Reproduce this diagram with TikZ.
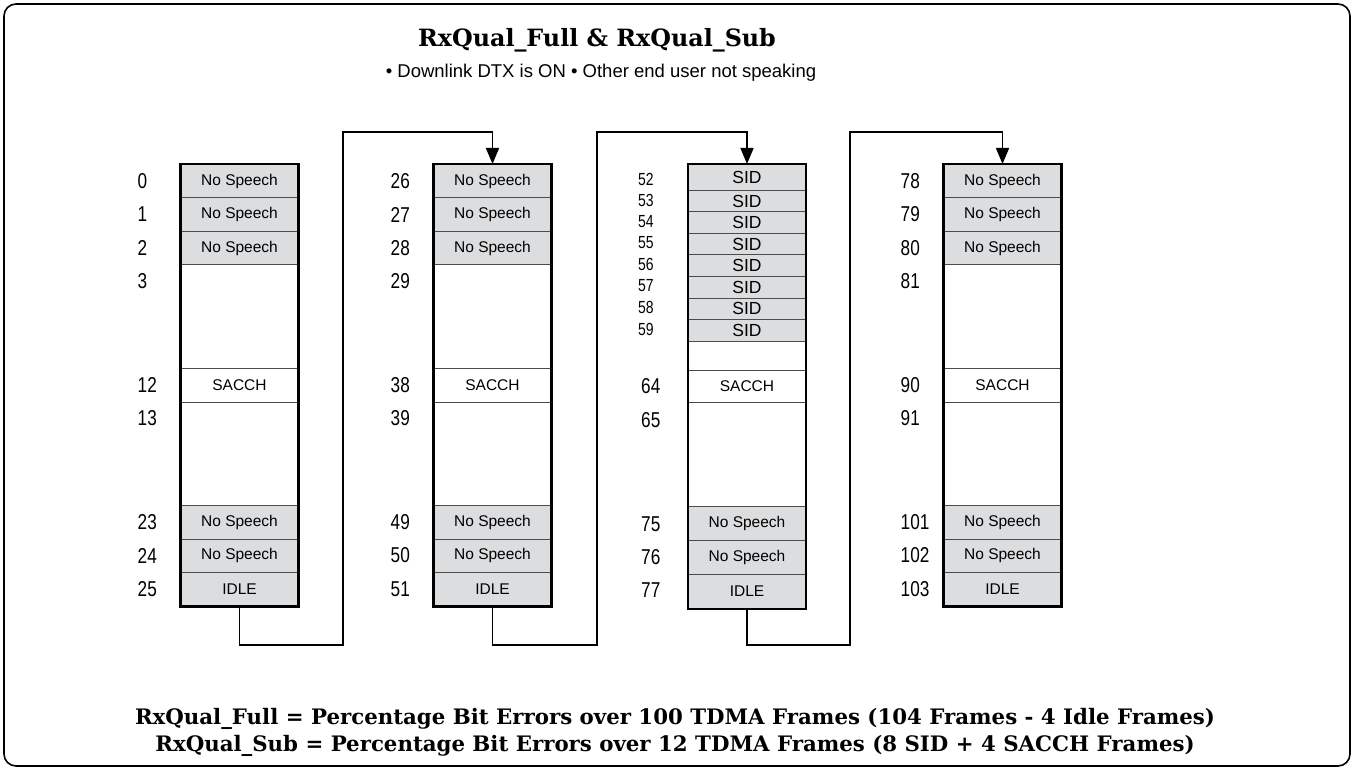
\documentclass[tikz,border=0pt]{standalone}
\usepackage{fontspec}
\setmainfont{Liberation Sans}
\newfontfamily\numfont{Liberation Sans}[FakeStretch=0.8]
\newfontfamily\headfont{DejaVu Serif}
\usetikzlibrary{arrows.meta}
\definecolor{cellgray}{HTML}{DCDDDF}
\tikzset{
  cell/.style={draw=black!70, line width=0.9pt, minimum width=117pt, inner sep=0pt,
    anchor=north, font=\fontsize{15.5}{15.5}\selectfont},
  nospeech/.style={cell, fill=cellgray, minimum height=33.5pt},
  blank/.style={cell, fill=white},
  sidcell/.style={cell, fill=cellgray, font=\fontsize{17.5}{17.5}\selectfont},
  outline/.style={line width=2.2pt, line join=miter},
  num/.style={anchor=west, inner sep=0pt, font=\numfont\fontsize{21.5}{21.5}\selectfont},
  smallnum/.style={anchor=west, inner sep=0pt, font=\numfont\fontsize{17.5}{17.5}\selectfont},
  link/.style={line width=1.6pt, -{Triangle[width=13pt,length=16pt]}},
  bigtext/.style={font=\headfont\bfseries\fontsize{21.3}{21.3}\selectfont}
}
\begin{document}
\begin{tikzpicture}[x=1pt,y=-1pt]
    \useasboundingbox (0,0) rectangle (1351,767);
    % Frame
    \draw[line width=1.6pt, rounded corners=12pt] (4,4) rectangle (1350,766);

    % Title
    \node[bigtext, font=\headfont\bfseries\fontsize{23.8}{23.8}\selectfont] (title) at (597,40) {RxQual\_Full \& RxQual\_Sub};
    \node[font=\fontsize{18.5}{18.5}\selectfont] (subtitle) at (601,73) {• Downlink DTX is ON • Other end user not speaking};

    % Columns with speech frames
    \foreach \c/\cx/\n in {A/239.5/0, B/492.5/26, D/1002.5/78} {
      \node[nospeech] (\c1) at (\cx,164) {No Speech};
      \node[nospeech] (\c2) at (\cx,197.5) {No Speech};
      \node[nospeech] (\c3) at (\cx,231) {No Speech};
      \node[blank, minimum height=103.5pt] (\c4) at (\cx,264.5) {};
      \node[blank, minimum height=33.5pt] (\c5) at (\cx,368) {SACCH};
      \node[blank, minimum height=103.5pt] (\c6) at (\cx,401.5) {};
      \node[nospeech] (\c7) at (\cx,505) {No Speech};
      \node[nospeech] (\c8) at (\cx,538.5) {No Speech};
      \node[nospeech] (\c9) at (\cx,572) {IDLE};
      \draw[outline] (\c1.north west) rectangle (\c9.south east);
      % Frame numbers
      \foreach \k/\y in {0/181, 1/214.5, 2/248, 3/281.5, 12/385,
                         13/418.5, 23/522, 24/555.5, 25/589} {
        \pgfmathtruncatemacro\m{\n+\k}
        \node[num] (num\m) at (\cx-102,\y) {\m};
      }
    }

    % Column with SID frames
    \node[sidcell, minimum height=26pt] (C1) at (747,164) {SID};
    \foreach \k in {2,...,8}
      \node[sidcell, minimum height=21.5pt] (C\k) at (747,{190+(\k-2)*21.5}) {SID};
    \node[blank, minimum height=29.5pt] (C9) at (747,340.5) {};
    \node[blank, minimum height=32pt] (C10) at (747,370) {SACCH};
    \node[blank, minimum height=104pt] (C11) at (747,402) {};
    \node[nospeech, minimum height=34pt] (C12) at (747,506) {No Speech};
    \node[nospeech, minimum height=34pt] (C13) at (747,540) {No Speech};
    \node[nospeech, minimum height=34pt] (C14) at (747,574) {IDLE};
    \draw[outline] (C1.north west) rectangle (C14.south east);
    \foreach \m/\y in {52/179, 53/200, 54/221.5, 55/243, 56/264.5, 57/286, 58/307.5, 59/329}
      \node[smallnum] (num\m) at (747-109,\y) {\m};
    \foreach \m/\y in {64/386, 65/420, 75/524, 76/557, 77/590}
      \node[num] (num\m) at (747-106,\y) {\m};

    % Connectors
    \coordinate (jA1) at (343,645);
    \coordinate (jA2) at (343,132);
    \coordinate (jB1) at (597,645);
    \coordinate (jB2) at (597,132);
    \coordinate (jC1) at (850,645);
    \coordinate (jC2) at (850,132);
    \draw[link] (A9.south) |- (jA1) -- (jA2) -| (B1.north);
    \draw[link] (B9.south) |- (jB1) -- (jB2) -| (C1.north);
    \draw[link] (C14.south) |- (jC1) -- (jC2) -| (D1.north);

    % Definitions
    \node[bigtext] (full) at (675,719) {RxQual\_Full = Percentage Bit Errors over 100 TDMA Frames (104 Frames - 4 Idle Frames)};
    \node[bigtext] (sub) at (675,746) {RxQual\_Sub = Percentage Bit Errors over 12 TDMA Frames (8 SID + 4 SACCH Frames)};
\end{tikzpicture}
\end{document}
